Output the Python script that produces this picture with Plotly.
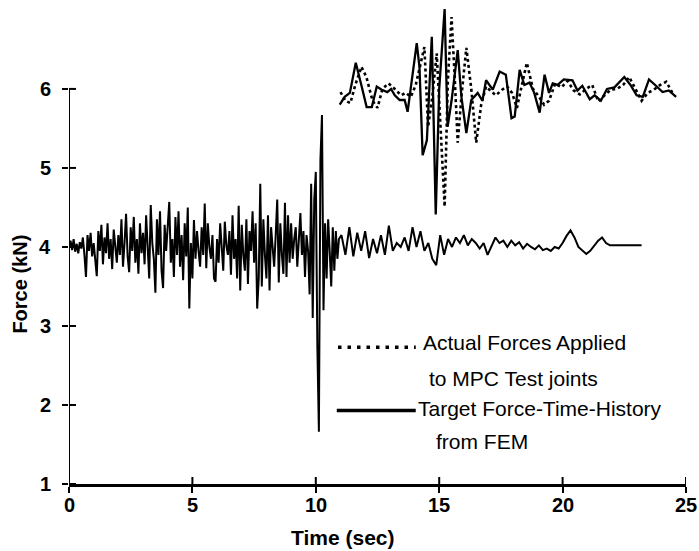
import numpy as np
import plotly.graph_objects as go

# ---------------- data ----------------
# Lower trace: target force-time history, segment A sampled every 0.0625 s from 0 s
lower_a_t0, lower_a_dt = 0.0, 0.0625
lower_a_vals = [
    4.00, 4.08, 3.96, 4.10, 3.94, 4.04, 3.92, 4.06, 3.98, 4.12, 3.90, 3.62, 4.15, 3.95, 4.18, 3.88,
    4.05, 3.82, 3.63, 4.20, 3.95, 4.28, 3.78, 4.12, 3.92, 4.30, 3.85, 4.10, 3.72, 4.22, 3.98, 3.80,
    4.15, 3.90, 4.35, 3.75, 4.05, 4.42, 3.88, 3.68, 4.25, 3.95, 4.38, 3.80, 4.10, 3.66, 4.30, 3.92,
    4.18, 3.78, 4.40, 3.95, 3.60, 4.53, 4.05, 3.85, 3.42, 4.35, 3.90, 4.45, 3.70, 3.48, 4.28, 3.95,
    4.20, 4.57, 3.80, 4.10, 3.62, 4.38, 3.90, 4.45, 3.75, 4.15, 3.58, 4.30, 3.88, 4.50, 3.22, 4.05,
    3.60, 4.34, 3.85, 4.20, 3.95, 3.75, 4.25, 3.90, 4.55, 3.73, 4.30, 4.00, 3.85, 4.15, 3.60, 3.56,
    4.10, 3.80, 4.30, 3.95, 3.70, 4.32, 4.02, 3.90, 4.20, 3.65, 4.40, 3.85, 4.10, 3.60, 4.52, 3.45,
    4.28, 3.90, 3.70, 4.35, 3.53, 4.20, 3.95, 4.45, 3.80, 4.30, 3.22, 3.60, 4.80, 3.50, 4.35, 3.90,
    3.60, 4.40, 3.45, 4.25, 3.95, 3.75, 4.15, 4.60, 3.55, 4.30, 3.90, 3.66, 4.56, 3.62, 4.40, 3.80,
    4.30, 3.85, 4.10, 4.25, 3.75, 4.05, 4.43, 3.90, 4.20, 3.62, 4.15, 3.95, 3.40, 4.80, 3.10, 4.60,
    4.95, 2.75, 1.66, 5.10, 5.67, 3.20, 4.30, 3.60, 4.35, 3.95, 3.50, 4.25, 3.70, 4.20, 3.85, 4.10,
]
# segment B sampled every 0.16 s from 11.04 s
lower_b_t0, lower_b_dt = 11.04, 0.16
lower_b_vals = [
    4.15, 3.90, 4.25, 3.88, 4.18, 3.95, 4.20,
    3.86, 4.10, 3.92, 4.15, 3.90, 4.27, 3.95,
    4.05, 4.00, 4.12, 3.95, 4.25, 4.00, 4.20,
    3.95, 4.05, 3.85, 3.77, 4.15, 3.90, 4.10,
    4.00, 4.12, 4.05, 4.15, 4.02, 4.10, 4.05,
    3.98, 4.05, 3.90, 4.00, 4.12, 4.05, 4.08,
    4.00, 4.08, 4.02, 4.06, 3.98, 4.04, 4.00,
    3.97, 4.02, 3.96, 3.98, 3.95, 4.00, 3.98,
    4.05, 4.14, 4.21, 4.12, 4.00, 3.95, 3.91,
    3.95, 4.02, 4.08, 4.12, 4.05, 4.02,
]
lower_tail_t = [22.0, 23.2]
lower_tail_vals = [4.02, 4.02]

# Upper traces: target (solid) vs actual (dotted)
upper_target_t = [10.97, 11.17, 11.38, 11.5, 11.62, 11.86, 12.06, 12.27, 12.47, 12.67,
                  12.9, 13.05, 13.2, 13.4, 13.6, 13.72, 13.9, 14.09, 14.2, 14.33,
                  14.5, 14.7, 14.86, 15.0, 15.22, 15.34, 15.5, 15.75, 15.9, 16.1,
                  16.3, 16.56, 16.75, 16.9, 17.17, 17.45, 17.7, 17.93, 18.06, 18.26,
                  18.45, 18.66, 18.85, 19.07, 19.27, 19.45, 19.6, 19.8, 20.05, 20.4,
                  20.6, 20.8, 21.1, 21.3, 21.55, 21.8, 22.1, 22.5, 22.75, 23.0,
                  23.25, 23.5, 23.75, 24.05, 24.3, 24.6]
upper_target_vals = [5.80, 5.90, 5.95, 6.15, 6.33, 6.03, 5.77, 5.77, 6.03, 5.99,
                     5.96, 6.00, 5.92, 5.86, 5.86, 5.71, 6.11, 6.58, 6.28, 5.16,
                     5.35, 6.66, 4.41, 6.00, 7.01, 5.52, 5.85, 6.49, 5.90, 5.44,
                     5.86, 5.95, 5.85, 6.11, 5.99, 6.22, 6.18, 5.63, 5.65, 6.24,
                     6.05, 6.08, 5.95, 5.70, 6.18, 5.95, 6.07, 6.05, 6.12, 6.11,
                     5.98, 6.04, 5.87, 5.92, 5.85, 6.00, 6.02, 6.15, 6.05, 5.92,
                     5.90, 6.12, 6.05, 5.96, 5.98, 5.90]
upper_actual_t = [11.0, 11.2, 11.4, 11.6, 11.85, 12.05, 12.3, 12.5, 12.7, 12.95,
                  13.2, 13.45, 13.65, 13.85, 14.05, 14.25, 14.4, 14.55, 14.72, 14.9,
                  15.05, 15.22, 15.35, 15.5, 15.62, 15.75, 15.9, 16.1, 16.3, 16.5,
                  16.7, 16.9, 17.1, 17.3, 17.55, 17.75, 17.95, 18.15, 18.35, 18.55,
                  18.8, 19.0, 19.25, 19.45, 19.7, 19.95, 20.2, 20.45, 20.7, 20.95,
                  21.2, 21.45, 21.7, 21.95, 22.2, 22.45, 22.7, 22.95, 23.2, 23.45,
                  23.7, 23.95, 24.2, 24.45]
upper_actual_vals = [5.96, 5.85, 5.82, 6.05, 6.28, 6.15, 5.85, 5.76, 6.00, 6.07,
                     6.00, 5.92, 5.95, 5.90, 6.05, 6.35, 6.53, 5.52, 5.90, 6.45,
                     5.50, 4.51, 6.10, 6.91, 6.20, 5.32, 5.90, 6.52, 6.00, 5.32,
                     5.80, 6.03, 5.97, 5.92, 5.99, 6.03, 5.95, 5.76, 6.05, 6.33,
                     6.00, 5.92, 5.80, 5.85, 6.07, 6.02, 6.10, 5.98, 5.93, 6.00,
                     6.05, 5.84, 5.92, 5.99, 6.00, 6.05, 6.15, 6.00, 5.85, 5.95,
                     5.99, 6.05, 6.09, 5.95]

x_ticks = [0, 5, 10, 15, 20, 25]
x_tick_labels = ["0", "5", "10", "15", "20", "25"]
y_ticks = [1, 2, 3, 4, 5, 6]
y_tick_labels = ["1", "2", "3", "4", "5", "6"]

# ---------------- build ----------------
lower_t = list(lower_a_t0 + lower_a_dt * np.arange(len(lower_a_vals))) + \
          list(lower_b_t0 + lower_b_dt * np.arange(len(lower_b_vals))) + lower_tail_t
lower_v = lower_a_vals + lower_b_vals + lower_tail_vals

FONT = "Liberation Sans, Arial, sans-serif"

fig = go.Figure()
fig.add_trace(go.Scatter(x=lower_t, y=lower_v, mode="lines",
                         line=dict(color="black", width=2.0), showlegend=False))
fig.add_trace(go.Scatter(x=upper_actual_t, y=upper_actual_vals, mode="lines",
                         line=dict(color="black", width=2.6, dash="dot"), showlegend=False))
fig.add_trace(go.Scatter(x=upper_target_t, y=upper_target_vals, mode="lines",
                         line=dict(color="black", width=2.3), showlegend=False))

Y_TOP = 7.1
fig.update_layout(
    width=699, height=551,
    margin=dict(l=69, r=13, t=2, b=67),
    paper_bgcolor="white", plot_bgcolor="white",
    font=dict(family=FONT, color="black", size=20),
    xaxis=dict(range=[0, 25], tickvals=x_ticks, showticklabels=False,
               ticks="outside", ticklen=6, tickwidth=2,
               tickcolor="black", showline=True, linecolor="black", linewidth=2.5,
               showgrid=False, zeroline=False),
    yaxis=dict(range=[1, Y_TOP], tickvals=y_ticks, showticklabels=False,
               ticks="outside", ticklen=6, tickwidth=2,
               tickcolor="black", showline=False, showgrid=False, zeroline=False),
)

# bold tick labels
for xv, lab in zip(x_ticks, x_tick_labels):
    fig.add_annotation(x=xv, y=0, xref="x", yref="paper", yshift=-21, text="<b>%s</b>" % lab,
                       showarrow=False, xanchor="center", yanchor="middle",
                       font=dict(family=FONT, size=20, color="black"))
for yv, lab in zip(y_ticks, y_tick_labels):
    fig.add_annotation(x=0, y=yv, xref="paper", yref="y", xshift=-16, text="<b>%s</b>" % lab,
                       showarrow=False, xanchor="right", yanchor="middle",
                       font=dict(family=FONT, size=20, color="black"))

# y axis line only from 1 to 6
fig.add_shape(type="line", xref="x", yref="y", x0=0, x1=0, y0=1, y1=6,
              line=dict(color="black", width=2))
# inner halves of tick marks (ticks cross the axis lines)
px_x = 25 / 617.0
px_y = (Y_TOP - 1) / 482.0
for xv in x_ticks:
    fig.add_shape(type="line", xref="x", yref="y", x0=xv, x1=xv, y0=1, y1=1 + 7 * px_y,
                  line=dict(color="black", width=2))
for yv in y_ticks:
    fig.add_shape(type="line", xref="x", yref="y", x0=0, x1=7 * px_x, y0=yv, y1=yv,
                  line=dict(color="black", width=2))

# legend leaders
fig.add_shape(type="line", xref="x", yref="y", x0=10.9, x1=14.05, y0=2.73, y1=2.73,
              line=dict(color="black", width=3.5, dash="3.5px,6px"))
fig.add_shape(type="line", xref="x", yref="y", x0=10.85, x1=14.05, y0=1.93, y1=1.93,
              line=dict(color="black", width=3.5))

ann = dict(showarrow=False, font=dict(family=FONT, size=21, color="black"))
fig.add_annotation(x=14.25, y=2.79, xref="x", yref="y", text="Actual Forces Applied",
                   xanchor="left", yanchor="middle", **ann)
fig.add_annotation(x=14.5, y=2.34, xref="x", yref="y", text="to MPC Test joints",
                   xanchor="left", yanchor="middle", **ann)
fig.add_annotation(x=14.05, y=1.95, xref="x", yref="y", text="Target Force-Time-History",
                   xanchor="left", yanchor="middle", **ann)
fig.add_annotation(x=14.8, y=1.54, xref="x", yref="y", text="from FEM",
                   xanchor="left", yanchor="middle", **ann)

# axis titles
fig.add_annotation(x=0.444, y=-0.11, xref="paper", yref="paper", text="<b>Time (sec)</b>",
                   showarrow=False, xanchor="center", yanchor="middle",
                   font=dict(family=FONT, size=21, color="black"))
fig.add_annotation(x=-0.08, y=0.415, xref="paper", yref="paper", text="<b>Force (kN)</b>",
                   showarrow=False, xanchor="center", yanchor="middle", textangle=-90,
                   font=dict(family=FONT, size=20, color="black"))

fig.write_html("out.html")
